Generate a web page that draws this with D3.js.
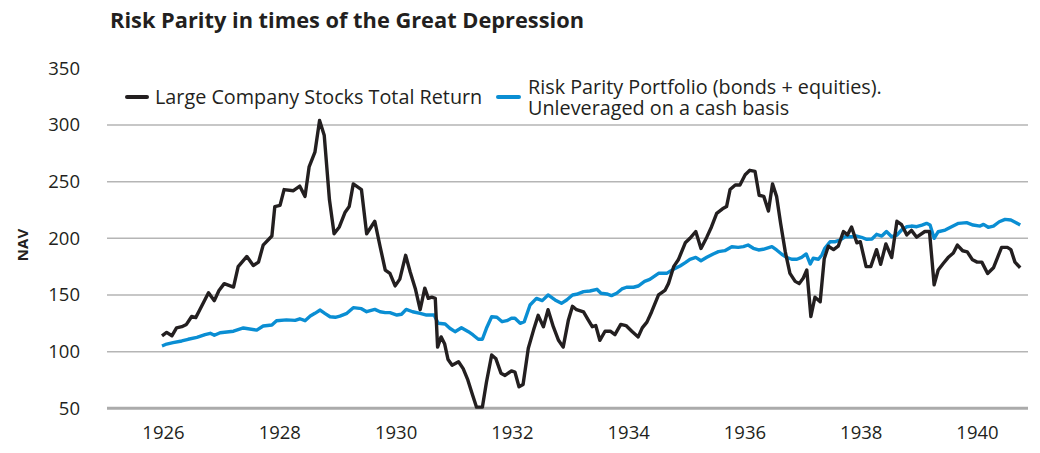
<!DOCTYPE html>
<html>
<head>
<meta charset="utf-8">
<script src="https://cdn.jsdelivr.net/npm/d3@7"></script>
<style>
  body { margin: 0; background: #fff; }
  text { font-family: "Open Sans", "Noto Sans", sans-serif; fill: #231f20; }
</style>
</head>
<body>
<div id="main"></div>
<script>
const ctx = {
    w: 1040,
    h: 453
};

// [year, NAV]
const stockSeries = [
    [1926.00,114],[1926.08,117],[1926.17,114],[1926.25,121],[1926.34,122],[1926.42,124],[1926.51,131],[1926.58,130],[1926.65,137],[1926.80,152],[1926.90,145],[1926.98,154],
    [1927.07,160],[1927.23,157],[1927.31,175],[1927.46,184],[1927.57,176],[1927.66,179],[1927.74,194],[1927.89,202],[1927.94,228],
    [1928.03,229],[1928.10,243],[1928.26,242],[1928.37,246],[1928.46,237],[1928.53,263],[1928.63,276],[1928.71,304],[1928.79,291],[1928.88,234],[1928.96,204],
    [1929.05,210],[1929.15,223],[1929.22,228],[1929.29,248],[1929.43,243],[1929.52,204],[1929.66,215],[1929.75,193],[1929.84,172],[1929.92,169],
    [1930.01,158],[1930.09,164],[1930.19,185],[1930.27,170],[1930.36,155],[1930.44,137],[1930.52,156],[1930.58,147],[1930.64,148],[1930.70,147],[1930.74,104],[1930.80,113],[1930.86,107],[1930.92,93],[1930.99,88],
    [1931.10,91],[1931.18,85],[1931.26,75],[1931.34,62],[1931.41,51],[1931.51,51],[1931.58,73],[1931.67,97],[1931.74,94],[1931.83,81],[1931.90,79],
    [1932.01,83],[1932.07,82],[1932.14,69],[1932.21,71],[1932.30,103],[1932.39,119],[1932.47,132],[1932.56,122],[1932.64,137],[1932.73,122],[1932.82,110],[1932.90,104],[1932.99,128],
    [1933.06,140],[1933.13,137],[1933.25,135],[1933.33,128],[1933.40,122],[1933.46,123],[1933.53,110],[1933.62,118],[1933.71,118],[1933.79,115],[1933.89,124],[1933.98,123],
    [1934.08,118],[1934.19,113],[1934.26,121],[1934.34,126],[1934.42,135],[1934.54,150],[1934.65,154],[1934.71,160],[1934.80,175],[1934.88,181],
    [1935.00,196],[1935.08,200],[1935.18,206],[1935.27,191],[1935.37,201],[1935.45,210],[1935.54,222],[1935.64,226],[1935.71,228],[1935.77,243],[1935.86,247],[1935.94,247],
    [1936.03,256],[1936.11,260],[1936.20,259],[1936.27,238],[1936.35,237],[1936.43,224],[1936.50,248],[1936.57,237],[1936.64,213],[1936.72,188],[1936.80,169],[1936.89,162],[1936.96,160],
    [1937.03,165],[1937.09,172],[1937.16,131],[1937.23,148],[1937.32,144],[1937.39,182],[1937.46,193],[1937.55,190],[1937.63,193],[1937.72,206],[1937.79,203],[1937.86,210],[1937.95,196],
    [1938.01,197],[1938.11,175],[1938.19,175],[1938.29,190],[1938.36,177],[1938.45,195],[1938.55,183],[1938.64,215],[1938.72,212],[1938.81,203],[1938.89,207],[1938.98,201],
    [1939.12,206],[1939.20,206],[1939.28,159],[1939.35,172],[1939.44,178],[1939.52,183],[1939.61,187],[1939.68,194],[1939.77,189],[1939.85,188],[1939.94,181],
    [1940.02,179],[1940.10,179],[1940.20,169],[1940.30,174],[1940.37,183],[1940.44,192],[1940.54,192],[1940.60,190],[1940.67,179],[1940.76,174]
];

const riskParitySeries = [
    [1926.00,105],[1926.08,106.7],[1926.19,107.9],[1926.34,109.4],[1926.45,110.9],[1926.60,112.6],[1926.74,115],[1926.83,116.2],[1926.90,114.4],
    [1927.00,116.7],[1927.23,118],[1927.40,120.9],[1927.63,119],[1927.74,122.6],[1927.89,123.5],[1927.97,127.3],
    [1928.14,128],[1928.29,127.6],[1928.37,129],[1928.46,127.3],[1928.55,131.4],[1928.63,133.8],[1928.72,136.7],[1928.80,133.8],[1928.89,130.8],[1928.98,130.3],
    [1929.06,131.4],[1929.18,133.8],[1929.29,138.8],[1929.43,137.9],[1929.52,135.2],[1929.66,137.3],[1929.75,135.2],[1929.84,134.4],[1929.92,134.4],
    [1930.04,132.3],[1930.12,133],[1930.20,137.3],[1930.31,135.2],[1930.44,133.8],[1930.55,132.3],[1930.68,132.3],[1930.75,125],[1930.87,124.4],[1930.95,120.6],
    [1931.04,117.6],[1931.15,121.1],[1931.27,117.6],[1931.35,114.7],[1931.44,110.9],[1931.51,110.9],[1931.58,120.6],[1931.67,130.8],[1931.76,130.3],[1931.85,126.4],[1931.93,127.3],
    [1932.01,129.4],[1932.07,129.4],[1932.16,125],[1932.23,126.4],[1932.33,141.2],[1932.44,147],[1932.54,145],[1932.64,150],[1932.76,145.6],[1932.87,142.6],[1932.96,145.6],
    [1933.06,150],[1933.13,150.6],[1933.25,152.9],[1933.36,153.5],[1933.48,155],[1933.55,151.5],[1933.65,150.9],[1933.73,149.4],[1933.82,151.5],[1933.91,155.3],[1933.99,156.8],
    [1934.11,156.8],[1934.19,157.9],[1934.30,162],[1934.39,163.8],[1934.54,169.1],[1934.68,169.1],[1934.79,172.6],[1934.91,175.6],
    [1935.00,178.5],[1935.08,181.5],[1935.18,183.2],[1935.27,180.2],[1935.37,183.2],[1935.48,186.2],[1935.57,188.2],[1935.68,189.1],[1935.80,192.6],[1935.91,192],
    [1936.00,192.6],[1936.08,194.1],[1936.17,191.2],[1936.26,189.7],[1936.34,190.3],[1936.49,192.6],[1936.57,189.7],[1936.66,185.9],[1936.74,183.2],[1936.83,181.5],[1936.92,181.5],
    [1937.00,183.2],[1937.08,186.2],[1937.15,177.3],[1937.20,182.4],[1937.29,181.5],[1937.35,185.3],[1937.40,191.2],[1937.49,197],[1937.58,197],[1937.66,198.5],[1937.75,201.4],[1937.86,201.4],[1937.95,202],
    [1938.03,200.9],[1938.12,199.1],[1938.21,199.4],[1938.29,203.5],[1938.38,202],[1938.46,206],[1938.55,201.4],[1938.64,202.9],[1938.72,207.3],[1938.81,210.2],[1938.89,210.8],[1938.98,210.2],
    [1939.07,211.7],[1939.15,213.2],[1939.21,211.7],[1939.28,200],[1939.35,205.8],[1939.47,207.3],[1939.58,210.2],[1939.70,213.2],[1939.84,213.8],[1939.95,211.7],
    [1940.07,210.8],[1940.13,212.3],[1940.21,209.7],[1940.30,210.8],[1940.40,214.6],[1940.50,216.7],[1940.60,216.1],[1940.69,213.8],[1940.76,211.7]
];

const yTicks = [50, 100, 150, 200, 250, 300, 350];
const gridTicks = [100, 150, 200, 250, 300];
const xTicks = [1926, 1928, 1930, 1932, 1934, 1936, 1938, 1940];
const stockLabel = "Large Company Stocks Total Return";
const rpLabel = ["Risk Parity Portfolio (bonds + equities).", "Unleveraged on a cash basis"];
const colors = { stock: "#231f20", rp: "#0a8ed3" };

function createViz() {
    const svg = d3.select("#main").append("svg")
        .attr("width", ctx.w)
        .attr("height", ctx.h);

    const x = d3.scaleLinear().domain([1926, 1940]).range([162, 976]);
    const y = d3.scaleLinear().domain([50, 350]).range([408.3, 68.3]);

    // title
    svg.append("text")
        .attr("x", 110).attr("y", 28)
        .style("font-size", "21.8px").style("font-weight", "bold")
        .text("Risk Parity in times of the Great Depression");

    // grid
    svg.append("g").selectAll("line")
        .data(gridTicks).enter().append("line")
        .attr("x1", 107).attr("x2", 1028)
        .attr("y1", d => y(d)).attr("y2", d => y(d))
        .attr("stroke", "#b5b5b5").attr("stroke-width", 1.5);
    svg.append("line")
        .attr("x1", 107).attr("x2", 1028)
        .attr("y1", y(50)).attr("y2", y(50))
        .attr("stroke", "#ababab").attr("stroke-width", 3);

    // y axis labels
    const yAxis = d3.axisLeft(y).tickValues(yTicks).tickSize(0).tickPadding(0);
    const yG = svg.append("g").attr("transform", "translate(80,0)").call(yAxis);
    yG.select(".domain").remove();
    yG.selectAll("text").style("font-size", "18.5px").style("font-family", null).attr("fill", null);

    // x axis labels
    const xAxis = d3.axisBottom(x).tickValues(xTicks).tickFormat(d3.format("d")).tickSize(0).tickPadding(0);
    const xG = svg.append("g").attr("transform", "translate(1,426)").call(xAxis);
    xG.select(".domain").remove();
    xG.selectAll("text").style("font-size", "18.5px").style("font-family", null).attr("fill", null);

    // NAV
    svg.append("text")
        .attr("transform", "translate(28,245) rotate(-90)")
        .attr("text-anchor", "middle")
        .style("font-size", "15px").style("font-weight", "bold")
        .text("NAV");

    // lines
    const line = d3.line().x(d => x(d[0])).y(d => y(d[1]));
    svg.append("path").datum(riskParitySeries)
        .attr("d", line).attr("fill", "none")
        .attr("stroke", colors.rp).attr("stroke-width", 3.4)
        .attr("stroke-linejoin", "round");
    svg.append("path").datum(stockSeries)
        .attr("d", line).attr("fill", "none")
        .attr("stroke", colors.stock).attr("stroke-width", 3.4)
        .attr("stroke-linejoin", "round");

    // legend
    const lg = svg.append("g");
    lg.append("line").attr("x1", 127).attr("x2", 147).attr("y1", 97).attr("y2", 97)
        .attr("stroke", colors.stock).attr("stroke-width", 4).attr("stroke-linecap", "round");
    lg.append("text").attr("x", 155).attr("y", 104).style("font-size", "19.8px").text(stockLabel);
    lg.append("line").attr("x1", 498).attr("x2", 519).attr("y1", 97).attr("y2", 97)
        .attr("stroke", colors.rp).attr("stroke-width", 4).attr("stroke-linecap", "round");
    // two-line label in one text element
    const rpText = lg.append("text").attr("x", 528).attr("y", 94).style("font-size", "19.8px");
    rpText.selectAll("tspan").data(rpLabel).enter().append("tspan")
        .attr("x", 528)
        .attr("dy", (d, i) => i === 0 ? 0 : 21)
        .text(d => d);
}

createViz();
</script>
</body>
</html>
